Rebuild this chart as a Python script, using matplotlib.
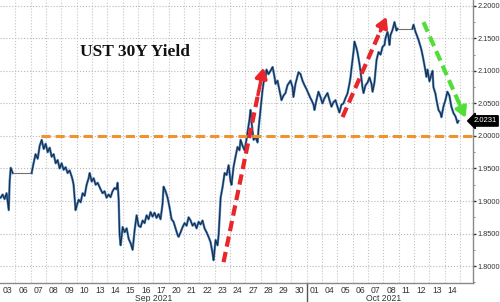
import numpy as np
import matplotlib
matplotlib.use("Agg")
import matplotlib.pyplot as plt
from matplotlib.ticker import FixedLocator, MultipleLocator
from matplotlib.transforms import blended_transform_factory

# trading days (one unit per session), Sep 03 .. Oct 14 2021
day_labels = ["03", "06", "07", "08", "09", "10", "13", "14", "15", "16", "17",
              "20", "21", "22", "23", "24", "27", "28", "29", "30",
              "01", "04", "05", "06", "07", "08", "11", "12", "13", "14"]
month_labels = ["Sep 2021", "Oct 2021"]
month_centers = [10, 25]
month_break = 20

# yield path (x in trading-day units)
seg1_x = [0.04, 0.17, 0.30, 0.43, 0.57, 0.63, 0.70, 0.83]
seg1_y = [1.905, 1.910, 1.903, 1.912, 1.886, 1.930, 1.951, 1.943]

seg2_x = [2.06, 2.19, 2.32, 2.46, 2.59, 2.72, 2.85, 2.98, 3.11, 3.24, 3.37, 3.50, 3.63, 3.76, 3.89,
          4.02, 4.15, 4.28, 4.41, 4.54, 4.67, 4.74, 4.80, 4.87, 4.93, 5.00, 5.13, 5.26, 5.39, 5.52,
          5.65, 5.78, 5.85, 5.98, 6.11, 6.24, 6.37, 6.56, 6.69, 6.82, 6.95, 7.08, 7.21, 7.34, 7.47,
          7.60, 7.67, 7.74, 7.80, 7.87, 8.00, 8.13, 8.26, 8.39, 8.52, 8.65, 8.78, 8.91, 9.04, 9.17,
          9.30, 9.43, 9.56, 9.69, 9.82, 9.95, 10.08, 10.21, 10.34, 10.47, 10.60, 10.67, 10.80, 10.93,
          11.06, 11.19, 11.32, 11.45, 11.58, 11.65, 11.78, 11.91, 12.04, 12.17, 12.30, 12.43, 12.56,
          12.69, 12.82, 12.95, 13.08, 13.21, 13.34, 13.47, 13.60, 13.73, 13.86, 13.93, 14.06, 14.19,
          14.26, 14.32, 14.39, 14.52, 14.65, 14.78, 14.91, 15.04, 15.10, 15.23, 15.36, 15.49, 15.62,
          15.69, 15.82, 15.95, 16.08, 16.14, 16.27, 16.34, 16.41, 16.54, 16.67, 16.80, 16.86, 16.99,
          17.12, 17.19, 17.32, 17.38, 17.51, 17.64, 17.78, 17.91, 17.97, 18.10, 18.23, 18.36, 18.49,
          18.62, 18.75, 18.95, 19.08, 19.14, 19.27, 19.47, 19.60, 19.73, 19.86, 19.99, 20.12, 20.25,
          20.32, 20.45, 20.51, 20.64, 20.77, 20.90, 21.03, 21.16, 21.36, 21.49, 21.62, 21.75, 21.88,
          22.01, 22.14, 22.27, 22.40, 22.53, 22.66, 22.79, 22.86, 22.93, 23.06, 23.12, 23.25, 23.32,
          23.45, 23.51, 23.64, 23.71, 23.84, 23.97, 24.10, 24.23, 24.30, 24.42, 24.49, 24.56, 24.69,
          24.82, 24.95, 25.08, 25.14, 25.27, 25.34, 25.40, 25.47, 25.60, 25.73, 25.86, 25.92]
seg2_y = [1.943, 1.958, 1.972, 1.965, 1.985, 1.994, 1.980, 1.988, 1.975, 1.982, 1.968, 1.972, 1.958,
          1.963, 1.950, 1.958, 1.948, 1.952, 1.943, 1.947, 1.938, 1.932, 1.925, 1.905, 1.886, 1.892,
          1.902, 1.898, 1.912, 1.908, 1.925, 1.935, 1.943, 1.930, 1.935, 1.925, 1.928, 1.918, 1.912,
          1.915, 1.905, 1.910, 1.906, 1.915, 1.920, 1.918, 1.928, 1.902, 1.848, 1.832, 1.860, 1.852,
          1.858, 1.842, 1.835, 1.825, 1.855, 1.878, 1.862, 1.860, 1.870, 1.866, 1.878, 1.872, 1.883,
          1.876, 1.882, 1.874, 1.880, 1.872, 1.895, 1.922, 1.915, 1.905, 1.890, 1.872, 1.868, 1.858,
          1.848, 1.845, 1.852, 1.860, 1.866, 1.862, 1.875, 1.870, 1.862, 1.866, 1.858, 1.868, 1.864,
          1.870, 1.858, 1.852, 1.845, 1.837, 1.820, 1.809, 1.840, 1.832, 1.848, 1.875, 1.905, 1.922,
          1.943, 1.940, 1.955, 1.930, 1.925, 1.952, 1.968, 1.983, 1.978, 1.994, 1.985, 1.978, 1.995,
          2.005, 2.025, 2.040, 2.020, 1.994, 1.998, 1.990, 2.010, 2.040, 2.070, 2.082, 2.090, 2.102,
          2.095, 2.100, 2.106, 2.090, 2.080, 2.085, 2.070, 2.055, 2.062, 2.066, 2.078, 2.085, 2.075,
          2.060, 2.080, 2.098, 2.095, 2.085, 2.078, 2.072, 2.065, 2.058, 2.055, 2.048, 2.040, 2.055,
          2.068, 2.060, 2.050, 2.058, 2.066, 2.055, 2.045, 2.052, 2.055, 2.045, 2.036, 2.048, 2.050,
          2.058, 2.065, 2.080, 2.090, 2.105, 2.130, 2.145, 2.135, 2.128, 2.110, 2.100, 2.075, 2.066,
          2.078, 2.082, 2.090, 2.080, 2.068, 2.082, 2.100, 2.117, 2.129, 2.125, 2.137, 2.140, 2.150,
          2.160, 2.152, 2.140, 2.155, 2.163, 2.175, 2.162, 2.165]

seg3_x = [26.90, 26.97, 27.10, 27.23, 27.29, 27.42, 27.49, 27.62, 27.75, 27.81, 27.88, 28.01, 28.14,
          28.21, 28.27, 28.40, 28.47, 28.60, 28.73, 28.79, 28.92, 29.05, 29.18, 29.31, 29.44, 29.58,
          29.71, 29.84, 29.90]
seg3_y = [2.165, 2.171, 2.160, 2.152, 2.148, 2.138, 2.132, 2.117, 2.100, 2.091, 2.102, 2.084, 2.095,
          2.100, 2.075, 2.065, 2.055, 2.040, 2.035, 2.029, 2.045, 2.055, 2.068, 2.062, 2.045, 2.035,
          2.030, 2.020, 2.0231]
last_value = 2.0231

# annotations
level_start = 2.65
level_value = 2.0
red_arrows = [((14.58, 1.806), (17.19, 2.105)), ((22.34, 2.029), (25.21, 2.183))]
green_arrow = ((27.62, 2.175), (30.36, 2.028))

plt.rcParams["font.family"] = ["Liberation Sans", "DejaVu Sans"]

fig = plt.figure(figsize=(5.0, 3.02), dpi=100)
ax = fig.add_axes([0.0, 0.063, 0.946, 0.937])
ax.set_xlim(0.0, 30.85)
ax.set_ylim(1.774, 2.209)

# grid
ax.xaxis.set_major_locator(FixedLocator(np.arange(1, 31)))
ax.xaxis.set_minor_locator(FixedLocator(np.arange(30) + 0.5))
ax.set_xticklabels([], minor=False)
ax.set_xticklabels(day_labels, minor=True)
ax.tick_params(axis="x", which="both", length=0, labelsize=6.2, colors="#333333", pad=2)
ax.grid(axis="x", which="major", color="#c4c4c4", linestyle=":", linewidth=0.8)

ax.yaxis.tick_right()
ax.yaxis.set_major_locator(MultipleLocator(0.05))
ax.yaxis.set_minor_locator(MultipleLocator(0.025))
ax.yaxis.set_major_formatter(matplotlib.ticker.FormatStrFormatter("%.4f"))
ax.tick_params(axis="y", which="major", length=2.2, width=1, direction="out",
               labelsize=5.3, colors="#333333", pad=1)
ax.tick_params(axis="y", which="minor", length=1.5, width=0.6, direction="out", colors="#777777")
ax.grid(axis="y", which="major", color="#b8b8b8", linestyle=":", linewidth=0.8)

for s in ["top", "left"]:
    ax.spines[s].set_visible(False)
for s in ["right", "bottom"]:
    ax.spines[s].set_color("#8a8a8a")
    ax.spines[s].set_linewidth(1.0)

# series
for xs, ys in [(seg1_x, seg1_y), (seg2_x, seg2_y), (seg3_x, seg3_y)]:
    ax.plot(xs, ys, color="#4d8ac8", lw=1.7, zorder=3)
    ax.plot(xs, ys, color="#1b2a44", lw=0.8, zorder=4)
# holiday gaps
ax.plot([seg1_x[-1], seg2_x[0]], [seg1_y[-1], seg2_y[0]], color="#707070", lw=0.8, zorder=3)
ax.plot([seg2_x[-1], seg3_x[0]], [seg2_y[-1], seg3_y[0]], color="#707070", lw=0.8, zorder=3)

# 2.00 level
ax.plot([level_start, 30.85], [level_value, level_value], color="#f0922e", lw=2.2,
        linestyle=(0, (3, 1.6)), zorder=5, clip_on=False)

def dashed_arrow(p0, p1, color):
    x0, y0 = p0
    x1, y1 = p1
    ax.plot([x0, x0 + 0.88 * (x1 - x0)], [y0, y0 + 0.88 * (y1 - y0)], color=color, lw=3,
            linestyle=(0, (2.5, 1.3)), zorder=6, solid_capstyle="butt")
    ax.annotate("", xy=p1, xytext=(x0 + 0.86 * (x1 - x0), y0 + 0.86 * (y1 - y0)),
                arrowprops=dict(arrowstyle="-|>,head_length=0.6,head_width=0.35",
                                color=color, lw=2.5, shrinkA=0, shrinkB=0), zorder=6)

for p0, p1 in red_arrows:
    dashed_arrow(p0, p1, "#e8262b")
dashed_arrow(green_arrow[0], green_arrow[1], "#52de38")

# title
ax.text(0.285, 0.816, "UST 30Y Yield", transform=ax.transAxes, ha="center", va="center",
        fontsize=12.5, fontweight="bold", family="Liberation Serif", color="#111111")

# last value tag
ax.text(0.993, last_value, "%.4f" % last_value,
        transform=blended_transform_factory(fig.transFigure, ax.transData),
        ha="right", va="center", fontsize=5.5, color="white", clip_on=False,
        bbox=dict(boxstyle="larrow,pad=0.22", fc="black", ec="black"))

# month labels and separator
tr = blended_transform_factory(ax.transData, ax.transAxes)
for lab, c in zip(month_labels, month_centers):
    ax.text(c, -0.055, lab, transform=tr, ha="center", va="center", fontsize=6.2, color="#333333")
ax.plot([month_break, month_break], [0, -0.07], transform=tr, color="#555555", lw=1.0, clip_on=False)

fig.savefig("out.png", dpi=100)
